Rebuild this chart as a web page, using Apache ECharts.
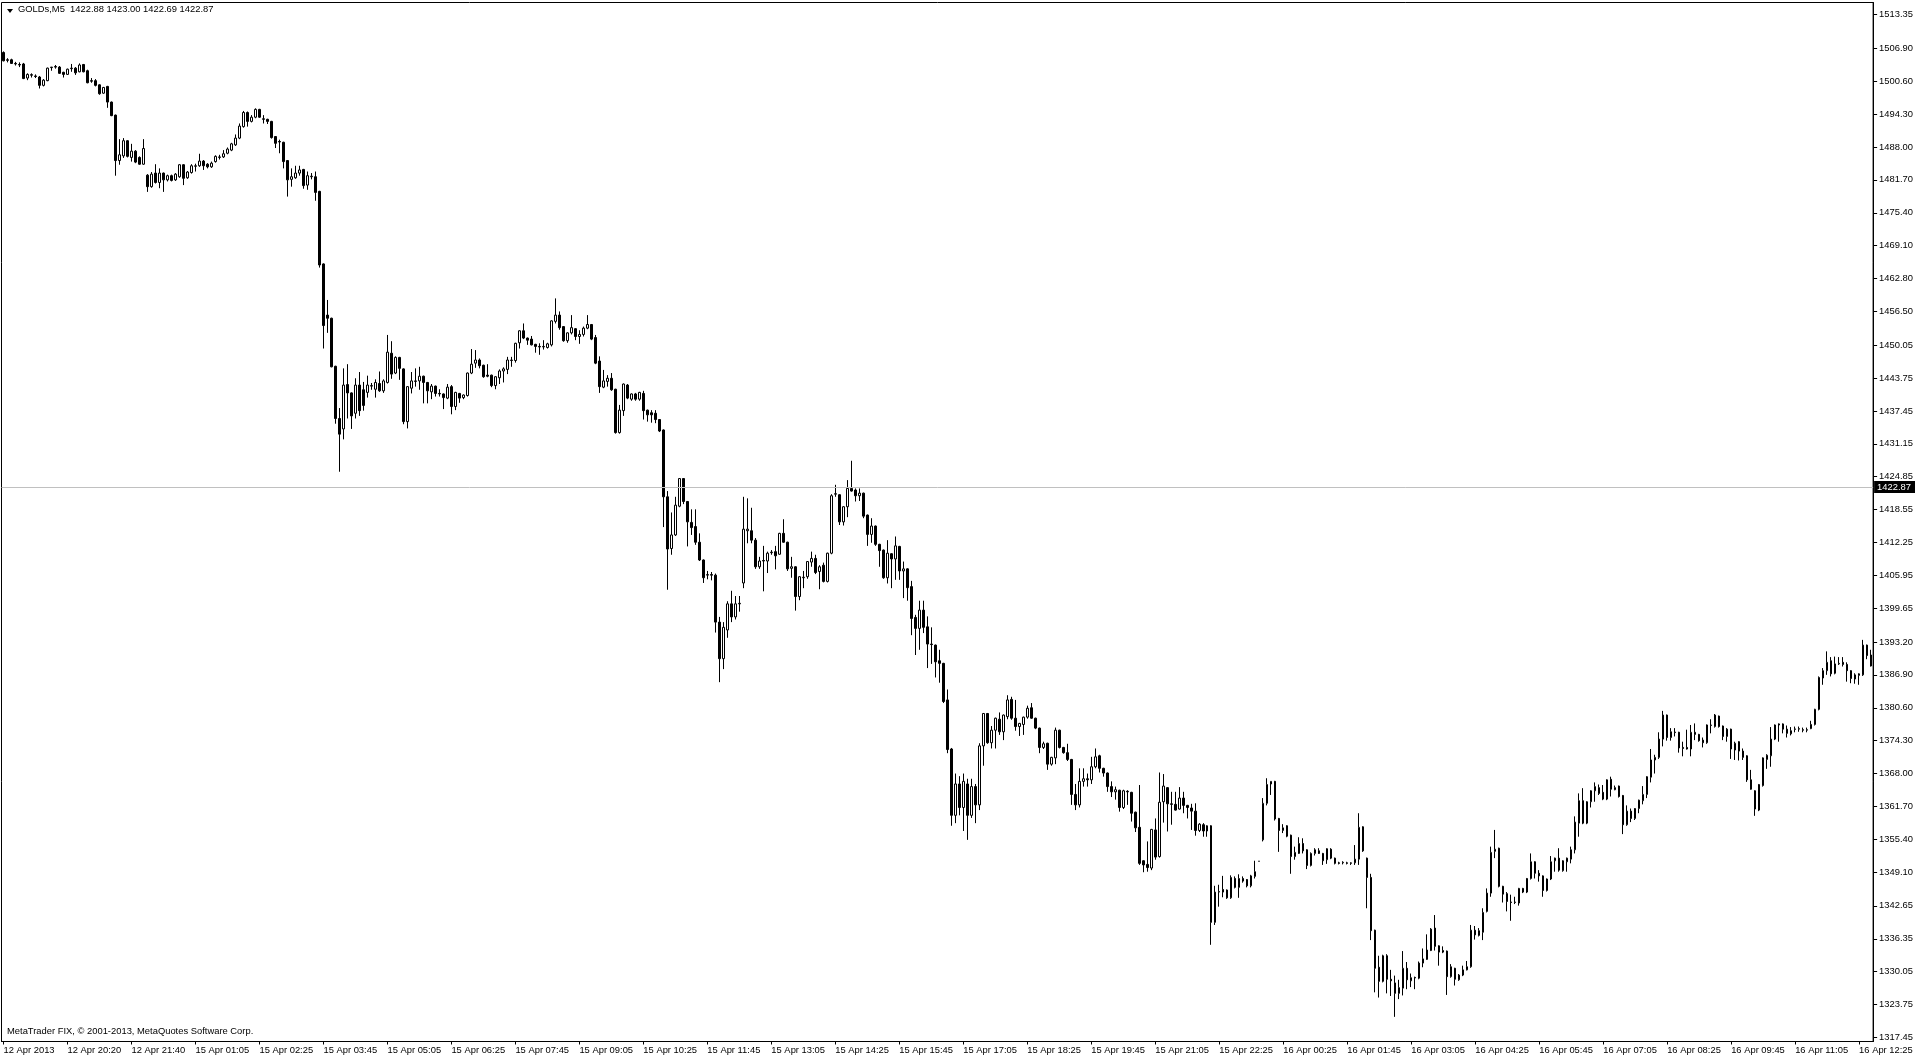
<!DOCTYPE html>
<html>
<head>
<meta charset="utf-8">
<script src="https://cdn.jsdelivr.net/npm/echarts@6/dist/echarts.min.js"></script>
<style>
html,body{margin:0;padding:0;background:#fff;}
#chart{width:1916px;height:1059px;}
</style>
</head>
<body>
<div id="chart"></div>
<script>
// ---------- chart texts ----------
const symbolTitle = 'GOLDs,M5';
const headerQuote = ['1422.88', '1423.00', '1422.69', '1422.87'];
const footerText = 'MetaTrader FIX, \u00A9 2001-2013, MetaQuotes Software Corp.';
const bidPrice = 1422.87;

// time labels, one every 16 bars
const timeTicks = [
  '12 Apr 2013', '12 Apr 20:20', '12 Apr 21:40', '15 Apr 01:05', '15 Apr 02:25',
  '15 Apr 03:45', '15 Apr 05:05', '15 Apr 06:25', '15 Apr 07:45', '15 Apr 09:05',
  '15 Apr 10:25', '15 Apr 11:45', '15 Apr 13:05', '15 Apr 14:25', '15 Apr 15:45',
  '15 Apr 17:05', '15 Apr 18:25', '15 Apr 19:45', '15 Apr 21:05', '15 Apr 22:25',
  '16 Apr 00:25', '16 Apr 01:45', '16 Apr 03:05', '16 Apr 04:25', '16 Apr 05:45',
  '16 Apr 07:05', '16 Apr 08:25', '16 Apr 09:45', '16 Apr 11:05', '16 Apr 12:25'
];
const barsPerTick = 16;

// price scale labels (bottom to top)
const priceTicks = [
  1317.45, 1323.75, 1330.05, 1336.35, 1342.65, 1349.10, 1355.40, 1361.70,
  1368.00, 1374.30, 1380.60, 1386.90, 1393.20, 1399.65, 1405.95, 1412.25,
  1418.55, 1424.85, 1431.15, 1437.45, 1443.75, 1450.05, 1456.50, 1462.80,
  1469.10, 1475.40, 1481.70, 1488.00, 1494.30, 1500.60, 1506.90, 1513.35
];
const priceMin = 1316.68;
const priceMax = 1515.67;

// M5 bars: [open, high, low, close]
const bars = [
// 0
[1506.1,1506.3,1504.4,1504.5],[1504.7,1505.0,1504.2,1504.6],[1504.7,1504.9,1503.9,1504.0],[1504.0,1504.3,1503.6,1503.9],[1503.8,1504.2,1503.3,1503.7],[1503.9,1504.1,1501.0,1501.1],[1501.2,1502.1,1500.8,1501.9],[1501.85,1502.1,1501.3,1501.75],[1501.6,1501.9,1501.2,1501.5],[1501.4,1501.6,1499.2,1499.8],
// 10
[1499.8,1501.0,1499.6,1500.8],[1500.7,1503.2,1500.6,1503.1],[1503.2,1503.3,1502.6,1503.3],[1503.4,1503.7,1503.0,1503.3],[1503.3,1503.5,1502.0,1502.1],[1502.3,1502.4,1501.3,1501.9],[1501.9,1503.0,1501.8,1502.9],[1503.0,1503.9,1502.4,1503.1],[1503.1,1503.3,1501.8,1502.2],[1502.4,1504.0,1502.3,1503.7],
// 20
[1503.8,1503.9,1502.3,1502.4],[1502.6,1502.8,1500.2,1500.3],[1500.7,1501.2,1500.3,1500.6],[1500.7,1501.0,1499.6,1499.8],[1499.9,1500.0,1498.0,1498.2],[1498.3,1499.5,1498.2,1499.4],[1499.6,1499.7,1495.5,1496.6],[1496.6,1496.7,1493.9,1494.0],[1494.1,1494.2,1482.5,1485.4],[1485.4,1489.5,1484.6,1486.5],
// 30
[1486.3,1489.7,1485.9,1489.2],[1489.2,1489.3,1486.0,1486.2],[1486.0,1488.6,1485.2,1487.2],[1487.2,1487.4,1484.9,1485.1],[1486.0,1486.2,1484.6,1484.7],[1484.7,1489.5,1484.6,1487.7],[1482.6,1482.8,1479.4,1480.4],[1480.4,1483.2,1480.2,1482.8],[1483.0,1484.7,1481.0,1481.2],[1481.2,1483.9,1480.1,1483.0],
// 40
[1483.0,1483.1,1479.4,1481.7],[1481.7,1482.7,1481.4,1482.5],[1482.5,1482.7,1481.4,1481.6],[1481.7,1483.0,1481.5,1482.8],[1482.3,1484.7,1482.1,1484.6],[1484.6,1484.7,1480.7,1482.0],[1482.1,1483.4,1481.9,1483.2],[1483.1,1484.7,1482.9,1484.4],[1484.3,1484.8,1483.3,1484.4],[1484.4,1486.7,1484.2,1485.3],
// 50
[1485.3,1485.5,1483.6,1484.4],[1484.7,1484.9,1483.9,1484.2],[1484.2,1485.2,1484.0,1484.9],[1485.2,1486.4,1485.0,1486.2],[1486.0,1486.5,1485.6,1486.1],[1486.1,1487.4,1485.9,1486.7],[1486.8,1487.9,1486.6,1487.6],[1487.4,1488.8,1487.2,1488.6],[1488.4,1490.4,1488.2,1489.7],[1489.7,1492.5,1489.5,1492.0],
// 60
[1491.9,1494.9,1491.7,1494.6],[1494.6,1494.8,1491.9,1492.9],[1492.9,1494.1,1492.7,1493.7],[1493.7,1495.4,1493.5,1495.2],[1495.2,1495.3,1493.6,1493.7],[1493.4,1494.1,1492.5,1493.3],[1493.3,1493.4,1492.4,1492.9],[1492.9,1493.0,1489.6,1489.8],[1490.0,1490.1,1487.8,1488.7],[1489.05,1489.4,1486.8,1488.95],
// 70
[1488.9,1489.0,1483.9,1485.2],[1485.4,1485.5,1478.5,1481.7],[1481.8,1483.9,1480.4,1482.3],[1482.1,1484.4,1481.9,1483.0],[1483.0,1484.4,1482.5,1483.6],[1483.7,1483.8,1480.0,1480.6],[1480.7,1483.3,1479.8,1482.5],[1482.3,1483.0,1481.8,1482.4],[1482.3,1483.3,1477.7,1479.3],[1479.5,1479.6,1464.9,1465.4],
// 80
[1465.6,1465.7,1449.4,1453.8],[1455.8,1458.7,1452.4,1455.2],[1455.2,1455.3,1445.8,1445.9],[1446.0,1446.1,1435.0,1436.0],[1436.0,1438.0,1425.8,1433.0],[1434.0,1445.6,1432.0,1442.4],[1442.5,1446.4,1436.0,1440.9],[1440.9,1441.0,1434.0,1436.5],[1437.0,1443.7,1436.0,1442.4],[1442.4,1444.9,1436.5,1437.5],
// 90
[1441.5,1443.0,1437.5,1438.5],[1441.0,1444.2,1440.0,1442.4],[1442.2,1442.8,1441.5,1442.3],[1441.6,1443.5,1440.0,1442.9],[1442.7,1445.0,1441.1,1441.3],[1441.3,1443.5,1440.9,1443.2],[1442.9,1452.0,1442.7,1448.7],[1448.5,1450.8,1443.6,1444.5],[1444.7,1447.9,1444.5,1447.7],[1447.7,1447.8,1443.4,1445.6],
// 100
[1445.5,1445.6,1434.9,1435.4],[1435.4,1442.2,1434.1,1442.1],[1441.8,1444.9,1440.8,1443.2],[1443.1,1445.6,1442.1,1443.2],[1443.2,1445.9,1441.5,1444.1],[1444.1,1444.2,1438.9,1442.9],[1442.9,1443.0,1438.9,1441.3],[1441.1,1442.6,1439.7,1442.2],[1442.2,1442.3,1440.2,1440.8],[1440.8,1441.6,1440.2,1440.7],
// 110
[1440.7,1440.8,1437.8,1440.0],[1439.9,1442.6,1439.7,1442.0],[1442.1,1442.4,1436.8,1438.3],[1438.3,1441.1,1437.6,1441.0],[1440.8,1440.9,1439.0,1439.9],[1440.0,1440.6,1439.7,1440.5],[1440.4,1444.8,1440.2,1444.7],[1444.7,1449.3,1444.5,1446.4],[1446.6,1449.1,1445.7,1447.2],[1447.2,1447.5,1445.6,1446.1],
// 120
[1446.2,1446.3,1443.8,1444.0],[1444.3,1446.4,1443.9,1444.1],[1444.3,1444.4,1442.0,1442.3],[1442.3,1444.1,1441.6,1444.0],[1443.8,1445.4,1442.6,1445.1],[1445.1,1445.8,1442.9,1445.5],[1445.4,1447.8,1444.5,1447.2],[1447.1,1447.8,1445.9,1447.2],[1447.1,1450.5,1446.7,1450.4],[1450.5,1452.9,1449.4,1452.8],
// 130
[1452.8,1454.2,1451.2,1451.4],[1451.4,1451.5,1450.1,1451.0],[1451.2,1451.8,1450.0,1450.1],[1450.2,1450.3,1448.6,1449.8],[1449.8,1450.4,1448.2,1449.7],[1449.7,1451.0,1449.2,1449.8],[1449.6,1450.5,1449.4,1450.3],[1450.1,1454.8,1449.8,1454.7],[1454.6,1459.0,1454.2,1455.8],[1455.8,1456.5,1453.0,1453.4],
// 140
[1453.6,1453.7,1450.7,1450.9],[1450.9,1452.5,1450.5,1452.4],[1452.4,1455.8,1452.1,1453.4],[1453.2,1453.3,1451.0,1451.7],[1451.7,1452.9,1450.3,1452.1],[1452.1,1453.6,1451.7,1453.3],[1453.3,1455.8,1453.1,1454.0],[1454.0,1454.1,1451.0,1451.2],[1451.5,1452.0,1446.4,1446.6],[1447.0,1447.9,1440.9,1442.1],
// 150
[1442.0,1445.3,1441.8,1443.2],[1443.1,1444.3,1442.1,1443.7],[1443.7,1444.7,1441.3,1441.5],[1441.6,1441.7,1433.1,1433.3],[1433.3,1438.6,1433.1,1437.6],[1437.5,1442.7,1436.5,1442.6],[1442.4,1442.6,1439.7,1439.9],[1439.7,1440.8,1439.4,1440.7],[1440.7,1440.9,1439.4,1439.7],[1439.7,1441.1,1439.4,1441.0],
// 160
[1440.8,1441.3,1435.8,1437.5],[1437.6,1437.7,1435.4,1436.7],[1437.1,1437.6,1435.2,1436.7],[1437.0,1437.6,1435.1,1435.8],[1435.8,1435.9,1433.4,1433.6],[1433.8,1433.9,1415.2,1421.0],[1421.0,1422.1,1403.2,1411.0],[1411.1,1418.0,1409.9,1413.7],[1413.7,1421.0,1413.5,1419.4],[1419.2,1424.6,1419.0,1424.5],
// 170
[1424.5,1424.6,1419.6,1420.1],[1420.1,1420.2,1411.5,1416.2],[1416.1,1418.6,1413.7,1415.1],[1415.3,1418.6,1411.8,1412.3],[1412.3,1414.0,1408.7,1408.9],[1408.9,1409.0,1404.5,1405.5],[1406.0,1406.8,1405.2,1406.1],[1406.1,1406.6,1405.0,1406.0],[1406.0,1406.3,1395.0,1397.0],[1397.0,1398.0,1385.5,1390.0],
// 180
[1390.0,1397.0,1388.0,1396.0],[1395.5,1401.0,1394.0,1400.5],[1400.5,1403.0,1397.0,1398.0],[1398.0,1402.0,1397.5,1400.5],[1400.5,1402.0,1399.0,1400.6],[1404.5,1421.0,1403.5,1414.8],[1414.5,1420.7,1412.1,1414.8],[1414.5,1418.9,1412.1,1412.7],[1412.7,1413.1,1407.2,1407.6],[1407.6,1409.5,1407.2,1408.7],
// 190
[1408.8,1411.6,1402.9,1408.7],[1408.7,1410.5,1406.4,1410.2],[1410.3,1410.8,1409.9,1410.4],[1410.5,1411.6,1407.1,1409.7],[1410.0,1414.1,1409.9,1414.0],[1414.0,1416.7,1412.2,1412.3],[1412.3,1412.4,1406.8,1407.2],[1407.3,1409.5,1405.5,1407.6],[1407.6,1407.7,1399.2,1401.9],[1401.9,1405.8,1401.2,1405.7],
// 200
[1405.5,1406.8,1403.5,1405.6],[1405.7,1408.7,1405.3,1408.6],[1408.5,1410.5,1407.6,1409.2],[1409.2,1409.9,1406.2,1406.5],[1406.7,1407.9,1403.3,1407.6],[1407.9,1408.4,1404.6,1404.8],[1404.8,1410.3,1404.6,1410.2],[1410.2,1421.5,1410.0,1421.2],[1421.5,1423.3,1421.0,1421.6],[1421.4,1421.5,1415.6,1416.2],
// 210
[1416.2,1419.2,1415.5,1419.1],[1419.1,1424.2,1417.1,1422.6],[1422.6,1427.9,1422.0,1422.1],[1422.3,1422.6,1420.1,1421.2],[1421.2,1422.6,1420.2,1421.7],[1421.7,1421.8,1416.9,1417.3],[1417.5,1417.6,1411.6,1413.8],[1413.8,1416.9,1412.2,1415.4],[1415.4,1415.5,1411.6,1411.9],[1411.9,1412.0,1407.6,1410.7],
// 220
[1410.8,1410.9,1405.3,1405.5],[1405.5,1412.7,1404.4,1410.2],[1410.1,1410.2,1403.5,1409.1],[1409.1,1413.4,1405.1,1411.6],[1411.5,1411.6,1405.1,1406.8],[1406.8,1408.6,1401.6,1407.2],[1407.2,1407.3,1401.1,1403.6],[1403.8,1404.9,1394.5,1397.7],[1397.9,1398.4,1390.7,1395.8],[1395.8,1401.1,1391.7,1399.3],
// 230
[1399.3,1401.1,1394.9,1396.0],[1396.1,1398.1,1388.2,1392.8],[1392.8,1396.0,1389.0,1392.7],[1392.6,1392.7,1386.4,1389.4],[1389.6,1391.7,1385.4,1389.1],[1389.1,1389.2,1381.5,1381.8],[1382.1,1384.1,1371.9,1372.6],[1372.7,1372.9,1358.0,1360.0],[1360.0,1368.0,1358.5,1366.0],[1366.0,1367.5,1360.0,1361.5],
// 240
[1361.5,1368.0,1357.0,1366.5],[1366.0,1367.0,1355.3,1360.0],[1360.0,1367.0,1359.5,1365.5],[1365.5,1366.0,1358.5,1362.0],[1362.0,1373.8,1361.0,1373.3],[1373.3,1379.6,1369.5,1379.5],[1379.5,1379.6,1373.7,1373.9],[1373.9,1377.1,1372.8,1376.3],[1376.3,1378.7,1372.8,1378.6],[1378.4,1379.7,1375.4,1376.0],
// 250
[1376.0,1379.3,1374.4,1379.2],[1378.9,1383.0,1378.4,1382.1],[1382.2,1382.7,1378.3,1378.6],[1378.6,1382.1,1376.2,1377.0],[1377.0,1377.7,1375.2,1377.6],[1377.4,1378.9,1375.4,1378.8],[1378.8,1381.0,1378.5,1380.5],[1380.6,1381.5,1378.5,1378.6],[1378.6,1378.7,1376.5,1376.7],[1376.7,1376.8,1371.9,1373.0],
// 260
[1373.0,1374.1,1372.7,1373.7],[1373.8,1373.9,1368.7,1369.8],[1369.8,1371.2,1369.5,1371.1],[1371.0,1376.8,1369.8,1376.3],[1376.3,1376.4,1372.8,1373.0],[1373.0,1373.1,1371.8,1372.0],[1372.0,1373.7,1370.4,1370.7],[1370.7,1370.8,1362.0,1364.0],[1364.0,1366.0,1361.0,1362.0],[1362.0,1369.0,1361.5,1366.5],
// 270
[1366.5,1369.0,1365.5,1367.0],[1367.0,1368.0,1365.5,1366.8],[1366.8,1371.2,1366.0,1369.3],[1369.3,1372.8,1369.0,1371.2],[1371.4,1371.6,1368.2,1369.0],[1369.0,1369.1,1367.4,1368.1],[1368.1,1368.2,1364.5,1365.5],[1365.5,1366.5,1363.5,1364.5],[1364.5,1365.5,1363.0,1364.9],[1364.8,1364.9,1360.7,1361.5],
// 280
[1361.5,1364.9,1361.2,1364.7],[1364.6,1364.8,1362.0,1364.5],[1364.4,1364.5,1358.8,1360.4],[1360.6,1360.7,1356.8,1357.6],[1357.7,1365.8,1350.5,1350.8],[1351.3,1351.4,1349.1,1350.5],[1350.6,1355.0,1349.2,1350.0],[1349.9,1357.4,1349.5,1357.3],[1357.2,1359.4,1351.5,1352.0],[1352.1,1368.2,1351.9,1362.5],
// 290
[1362.6,1367.9,1358.6,1365.6],[1365.3,1365.4,1356.9,1362.2],[1362.2,1364.5,1358.2,1362.1],[1362.1,1364.5,1360.9,1361.0],[1361.2,1365.4,1361.1,1363.3],[1363.3,1364.5,1360.4,1361.9],[1361.9,1362.0,1359.4,1361.5],[1361.4,1362.2,1357.2,1360.8],[1360.8,1362.3,1356.1,1357.1],[1357.1,1358.5,1356.8,1358.3],
// 300
[1358.2,1358.5,1355.9,1357.0],[1357.0,1358.1,1355.9,1358.0],[1358.0,1358.1,1335.2,1339.5],[1339.5,1346.5,1339.0,1345.3],[1345.3,1346.7,1342.5,1345.4],[1345.8,1348.4,1344.3,1345.3],[1345.7,1345.8,1344.0,1344.2],[1344.2,1348.5,1344.0,1348.1],[1347.9,1348.3,1346.0,1346.2],[1346.2,1348.7,1344.2,1347.9],
// 310
[1347.9,1348.3,1347.1,1347.4],[1347.7,1347.8,1346.2,1346.5],[1346.5,1348.6,1346.2,1348.4],[1348.3,1351.3,1347.9,1349.2],[1351.2,1351.2,1351.2,1351.2],[1355.3,1363.3,1355.0,1362.3],[1362.3,1367.1,1361.9,1365.9],[1366.0,1366.5,1363.9,1366.5],[1366.5,1366.6,1359.0,1359.3],[1359.4,1359.5,1353.0,1357.1],
// 320
[1357.1,1358.3,1356.6,1357.6],[1358.0,1358.1,1355.8,1356.0],[1356.2,1356.3,1348.8,1352.1],[1352.1,1354.0,1351.5,1352.9],[1352.7,1355.8,1352.6,1354.6],[1354.6,1355.6,1352.7,1353.2],[1353.4,1353.5,1349.7,1350.4],[1350.4,1352.9,1350.2,1352.7],[1352.7,1353.7,1352.3,1353.4],[1353.2,1353.7,1352.6,1352.7],
// 330
[1352.7,1352.8,1350.5,1351.3],[1351.5,1353.7,1350.7,1353.6],[1353.5,1353.7,1351.6,1351.8],[1351.8,1351.9,1350.6,1350.8],[1350.9,1351.1,1350.6,1350.8],[1350.9,1351.2,1350.6,1351.0],[1350.9,1351.1,1350.6,1350.8],[1350.8,1351.0,1350.5,1350.9],[1350.9,1354.3,1350.5,1351.6],[1351.6,1360.4,1350.5,1357.7],
// 340
[1357.8,1357.9,1353.0,1353.2],[1351.8,1351.9,1342.2,1348.1],[1348.1,1348.8,1336.1,1337.9],[1338.0,1338.1,1326.1,1330.7],[1330.9,1333.1,1325.1,1328.2],[1328.2,1333.3,1328.0,1333.1],[1333.1,1333.4,1325.9,1328.6],[1328.6,1330.4,1325.4,1328.3],[1327.9,1329.3,1321.4,1325.9],[1325.9,1328.5,1324.8,1327.0],
// 350
[1326.9,1334.0,1325.5,1330.7],[1330.7,1331.9,1326.7,1328.5],[1328.3,1329.7,1327.1,1328.9],[1328.95,1329.1,1326.7,1328.85],[1328.8,1332.0,1328.6,1331.7],[1331.7,1334.5,1330.9,1332.5],[1332.4,1337.2,1332.3,1334.2],[1334.1,1338.4,1334.0,1338.2],[1338.4,1340.9,1334.1,1334.9],[1335.0,1335.1,1331.2,1333.8],
// 360
[1334.1,1334.9,1333.6,1333.8],[1334.0,1334.1,1325.6,1329.1],[1329.1,1331.5,1328.9,1331.0],[1330.7,1330.8,1327.4,1328.6],[1328.5,1329.6,1328.3,1329.4],[1329.4,1331.2,1329.2,1330.4],[1330.4,1332.1,1330.3,1331.0],[1331.0,1339.0,1330.8,1338.0],[1338.0,1338.8,1336.2,1337.1],[1337.0,1338.4,1336.8,1337.9],
// 370
[1337.6,1342.2,1336.1,1341.4],[1341.6,1346.0,1341.4,1345.1],[1345.1,1354.0,1344.4,1352.9],[1353.1,1357.2,1351.8,1353.5],[1353.7,1353.8,1346.2,1346.4],[1346.4,1346.5,1343.3,1344.9],[1345.0,1345.3,1341.6,1343.5],[1343.4,1344.8,1339.8,1343.3],[1343.3,1344.4,1343.0,1343.4],[1343.2,1346.1,1342.7,1346.0],
// 380
[1346.0,1346.1,1345.1,1345.3],[1345.3,1348.0,1345.1,1347.9],[1347.9,1352.7,1347.7,1351.1],[1351.1,1351.2,1347.9,1348.9],[1348.9,1349.5,1347.3,1348.4],[1348.4,1348.5,1344.4,1345.6],[1345.6,1347.9,1345.4,1347.8],[1347.8,1352.2,1347.6,1351.1],[1351.3,1351.9,1349.2,1351.8],[1351.8,1353.7,1349.2,1349.5],
// 390
[1349.4,1351.4,1349.2,1351.3],[1351.1,1351.9,1349.2,1351.8],[1351.6,1354.0,1350.8,1353.4],[1353.4,1359.8,1352.7,1358.7],[1358.5,1364.2,1355.9,1362.8],[1362.8,1365.2,1358.3,1358.5],[1358.5,1362.7,1358.3,1362.6],[1362.6,1364.8,1361.5,1364.7],[1364.7,1366.3,1362.6,1365.5],[1365.3,1365.9,1363.9,1364.2],
// 400
[1364.4,1365.8,1362.9,1363.1],[1363.1,1366.9,1362.9,1366.8],[1366.9,1367.4,1363.6,1365.0],[1364.9,1365.7,1364.8,1365.3],[1365.6,1365.7,1363.4,1363.6],[1363.8,1363.9,1356.4,1358.2],[1358.2,1361.9,1358.0,1360.8],[1360.8,1361.3,1358.7,1359.4],[1359.4,1361.4,1359.1,1361.3],[1361.3,1363.0,1360.4,1362.9],
// 410
[1362.8,1365.6,1362.1,1364.0],[1364.0,1367.5,1363.3,1367.4],[1367.3,1372.7,1366.3,1370.6],[1370.6,1371.6,1368.0,1371.1],[1371.1,1375.9,1370.8,1374.6],[1374.6,1380.0,1373.2,1379.2],[1379.2,1379.3,1374.3,1374.9],[1374.9,1376.7,1374.3,1376.0],[1375.95,1376.7,1375.1,1375.85],[1375.9,1376.0,1372.0,1372.9],
// 420
[1373.0,1374.1,1371.3,1372.8],[1373.0,1376.4,1372.6,1372.7],[1372.7,1377.3,1371.3,1375.9],[1375.9,1377.6,1374.4,1375.5],[1375.5,1375.6,1374.1,1374.3],[1374.4,1374.9,1373.0,1373.9],[1373.9,1377.4,1373.7,1377.3],[1377.2,1378.4,1375.7,1377.3],[1377.0,1379.4,1376.8,1379.2],[1379.0,1379.1,1376.8,1377.0],
// 430
[1377.1,1377.2,1374.4,1375.1],[1375.1,1376.7,1374.1,1376.5],[1376.5,1376.6,1370.8,1372.7],[1372.5,1374.1,1370.6,1373.8],[1374.1,1374.2,1370.5,1372.3],[1372.3,1372.8,1370.6,1371.1],[1371.4,1371.5,1366.4,1366.8],[1366.8,1368.7,1364.9,1365.0],[1364.7,1364.8,1359.9,1361.2],[1361.0,1366.0,1360.8,1365.9],
// 440
[1365.7,1371.1,1365.5,1371.0],[1370.7,1371.7,1368.9,1371.5],[1371.4,1376.9,1369.3,1374.6],[1374.6,1377.4,1374.4,1377.3],[1377.5,1377.6,1374.1,1377.3],[1377.5,1377.6,1375.7,1376.5],[1376.5,1377.2,1374.9,1375.7],[1375.6,1376.9,1375.3,1376.2],[1376.45,1377.0,1375.9,1376.55],[1376.5,1377.0,1376.0,1376.6],
// 450
[1376.4,1376.8,1375.9,1376.3],[1376.3,1376.8,1375.9,1376.4],[1376.6,1378.1,1376.5,1377.4],[1377.4,1380.4,1377.2,1380.3],[1380.3,1386.6,1380.1,1386.4],[1386.3,1388.2,1385.0,1387.7],[1387.7,1391.4,1386.9,1389.3],[1389.6,1390.3,1386.6,1387.1],[1387.2,1390.4,1387.0,1389.0],[1389.0,1390.3,1388.8,1389.1],
// 460
[1389.3,1390.3,1388.5,1388.9],[1388.9,1389.3,1385.6,1387.7],[1387.7,1387.8,1385.3,1386.2],[1386.1,1387.2,1385.2,1386.9],[1386.8,1387.2,1385.0,1387.1],[1386.9,1393.6,1386.7,1392.6],[1392.6,1392.7,1389.9,1390.6],[1390.7,1391.7,1388.5,1388.6]
];

// ---------- build ----------
const categories = bars.map((_, i) => String(i));
const candleData = bars.map(b => [b[0], b[3], b[2], b[1]]); // open, close, low, high

const FONT = "'Liberation Sans', Arial, sans-serif";
const FS = 9.4;

const chart = echarts.init(document.getElementById('chart'), null, {renderer: 'canvas'});

chart.setOption({
  animation: false,
  backgroundColor: '#ffffff',
  grid: {
    left: 1.5, top: 2.5, width: 1872, bottom: 17.5,
    show: true, borderColor: '#000', borderWidth: 1, backgroundColor: 'transparent'
  },
  xAxis: {
    type: 'category',
    data: categories,
    boundaryGap: true,
    axisLine: {show: true, lineStyle: {color: '#000', width: 1}},
    axisTick: {
      show: true, alignWithLabel: true, length: 3,
      interval: (idx) => idx % barsPerTick === 0,
      lineStyle: {color: '#000'}
    },
    axisLabel: {
      show: true,
      interval: (idx) => idx % barsPerTick === 0,
      formatter: (v, idx) => timeTicks[Math.round(idx / barsPerTick)] || '',
      align: 'left',
      margin: 4,
      color: '#000',
      fontFamily: FONT,
      fontSize: FS
    },
    splitLine: {show: false}
  },
  yAxis: {
    type: 'value',
    position: 'right',
    min: priceMin,
    max: priceMax,
    scale: true,
    axisLine: {show: true, lineStyle: {color: '#000', width: 1}},
    axisTick: {show: true, length: 4, customValues: priceTicks, lineStyle: {color: '#000'}},
    axisLabel: {
      show: true,
      customValues: priceTicks,
      formatter: (v) => Number(v).toFixed(2),
      margin: 6,
      color: '#000',
      fontFamily: FONT,
      fontSize: FS
    },
    splitLine: {show: false}
  },
  series: [{
    type: 'candlestick',
    data: candleData,
    barWidth: 2,
    itemStyle: {
      color: '#ffffff',
      color0: '#000000',
      borderColor: '#000000',
      borderColor0: '#000000',
      borderWidth: 1
    },
    markLine: {
      silent: true,
      symbol: 'none',
      animation: false,
      lineStyle: {color: '#c0c0c0', type: 'solid', width: 1},
      label: {
        show: true,
        position: 'end',
        distance: 1,
        formatter: bidPrice.toFixed(2),
        color: '#ffffff',
        backgroundColor: '#000000',
        padding: [2, 4, 1, 3],
        fontFamily: FONT,
        fontSize: FS
      },
      data: [{yAxis: bidPrice}]
    }
  }],
  graphic: [
    {type: 'polygon', shape: {points: [[7, 9], [13, 9], [10, 13]]}, style: {fill: '#000'}},
    {type: 'text', left: 18, top: 5, style: {
      text: symbolTitle + '  ' + headerQuote.join(' '),
      fill: '#000', font: FS + 'px ' + FONT
    }},
    {type: 'text', left: 7, top: 1027, style: {
      text: footerText, fill: '#000', font: FS + 'px ' + FONT
    }}
  ]
});
</script>
</body>
</html>
